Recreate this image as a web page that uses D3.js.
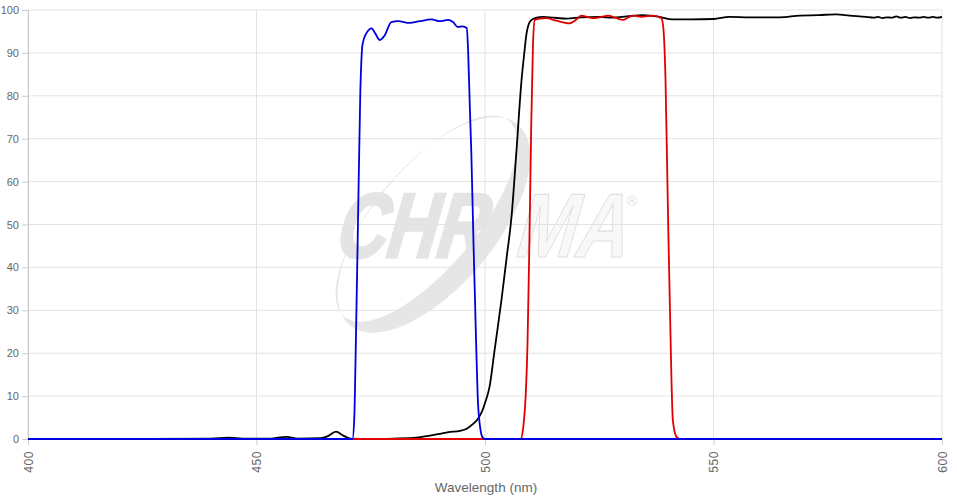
<!DOCTYPE html>
<html><head><meta charset="utf-8">
<script src="https://cdn.jsdelivr.net/npm/d3@7"></script>
<style>
body{margin:0;background:#fff}
text{font-family:"Liberation Sans",Arial,sans-serif}
</style>
</head><body>
<svg id="c" width="957" height="501"></svg>
<script>
const xTicks = [400, 450, 500, 550, 600];
const yTicks = [0, 10, 20, 30, 40, 50, 60, 70, 80, 90, 100];
const xTitle = "Wavelength (nm)";

const blueWl = [400,430,460,470,471.0,471.4,471.7,472.2,472.7,473.2,474.0,475.2,476.0,477.0,478.0,479.5,481.0,483.5,485.7,488.3,490.1,491.9,493.0,494.1,495.1,496.0,496.3,496.7,497.0,497.5,498.1,498.4,498.9,499.5,500,600];
const blueT  = [0,0,0,0,0,5,20,50,80,92,94.5,95.7,94.5,93.0,94.0,97.2,97.4,97.0,97.4,97.8,97.4,97.7,97.2,96.0,96.2,95.8,90.7,76.7,67,45,20.7,10,3,0.3,0,0];

const blackWl = [400,420,440,444,447,453,456.5,459,464,465.5,467.4,469,470.5,475,480,485,488,490.1,492,494.5,496,496.7,497.7,498.5,499.3,500,501,502.1,503.6,504.7,505.8,506.9,508,508.6,509.1,509.6,510.2,511.3,512.7,515,518,521,525,528,531,534.5,538.2,541,545,550,553.5,558,564.5,568.9,573,576.9,579.8,583.4,585,586,587,588,589,590,591,592,593,594,595,596,597,598,599,600];
const blackT  = [0,0,0.1,0.3,0.1,0.1,0.5,0.1,0.2,0.6,1.7,0.8,0.1,0,0.1,0.3,0.8,1.2,1.6,1.9,2.4,2.9,3.8,4.8,6.3,8.4,12.2,20.7,32.4,42,51.8,67.4,83.7,90,94.6,96.8,97.7,98.2,98.4,98.2,98.0,98.3,98.4,98.2,98.5,98.8,98.4,97.8,97.8,97.9,98.4,98.3,98.3,98.7,98.8,99.0,98.7,98.4,98.2,98.4,98.1,98.3,98.2,98.5,98.2,98.4,98.1,98.3,98.2,98.4,98.2,98.4,98.2,98.4];

const redWl = [400,507.8,508.4,508.9,509.3,509.7,510.1,510.5,510.9,512,513.4,515.6,518.5,520,521.1,522.3,523.6,525.5,526.9,528.5,530.2,531.4,532.4,534.2,536.8,538.6,539,539.5,540,540.8,541.1,541.9,542.6,600];
const redT  = [0,0,3,10,22,45,72,92,97.7,98.0,98.1,97.5,96.9,97.8,98.7,98.4,98.1,98.4,98.7,98.2,97.7,98.3,98.7,98.4,98.7,98.1,96.1,83.7,55,13.8,4.4,0.5,0,0];

const svg = d3.select("#c");
const x = d3.scaleLinear().domain([400, 600]).range([28, 942]);
const y = d3.scaleLinear().domain([0, 100]).range([439, 10]);

// watermark
const wm = svg.append("g").attr("class", "wm");
const cx = 434, cy = 225;
const eg = wm.append("g").attr("transform", `translate(${cx},${cy}) rotate(-50)`);
function ell(a, b, oy) {
  return `M${-a},${oy} A${a},${b} 0 1,0 ${a},${oy} A${a},${b} 0 1,0 ${-a},${oy} Z`;
}
eg.append("path").attr("d", ell(131, 61, 0) + ell(128, 50, -10))
  .attr("fill", "#e6e6e6").attr("fill-rule", "evenodd");
wm.append("g").attr("transform", "translate(332,257) skewX(-16)")
  .append("text").attr("x", 0).attr("y", 0)
  .attr("font-size", 91).attr("font-weight", "bold")
  .attr("textLength", 150).attr("lengthAdjust", "spacingAndGlyphs")
  .attr("fill", "#e4e4e4").attr("stroke", "#e4e4e4").attr("stroke-width", 3).text("CHR");
wm.append("g").attr("transform", "translate(512,257) skewX(-16)")
  .append("text").attr("x", 0).attr("y", 0)
  .attr("font-size", 91).attr("font-weight", "bold")
  .attr("textLength", 112).attr("lengthAdjust", "spacingAndGlyphs")
  .attr("fill", "#f8f8f8").attr("stroke", "#e0e0e0").attr("stroke-width", 1.2).text("MA");
wm.append("text").attr("x", 632).attr("y", 206).attr("font-size", 14)
  .attr("text-anchor", "middle").attr("fill", "#e2e2e2").text("®");

// grid
const grid = svg.append("g");
grid.selectAll("line.h").data(yTicks).join("line")
  .attr("x1", x(400)).attr("x2", x(600))
  .attr("y1", d => y(d)).attr("y2", d => y(d))
  .attr("stroke", "#e3e3e3").attr("stroke-width", 1);
grid.selectAll("line.v").data(xTicks).join("line")
  .attr("x1", d => x(d)).attr("x2", d => x(d))
  .attr("y1", y(100)).attr("y2", y(0))
  .attr("stroke", "#e3e3e3").attr("stroke-width", 1);

// y axis
const ya = svg.append("g").attr("transform", `translate(${x(400)},0)`)
  .call(d3.axisLeft(y).tickValues(yTicks).tickSize(6).tickPadding(3).tickFormat(d3.format("d")));
ya.select(".domain").attr("stroke", "#ccc");
ya.selectAll(".tick line").attr("stroke", "#ccc");
ya.selectAll(".tick text").attr("fill", "#666").attr("font-size", 11)
  .attr("font-family", "Liberation Sans, Arial, sans-serif");

// x axis
const xa = svg.append("g").attr("transform", `translate(0,${y(0)})`)
  .call(d3.axisBottom(x).tickValues(xTicks).tickSize(6).tickFormat(d3.format("d")));
xa.select(".domain").attr("stroke", "#ccc");
xa.selectAll(".tick line").attr("stroke", "#ccc");
xa.selectAll(".tick text").attr("fill", "#666").attr("font-size", 12)
  .attr("font-family", "Liberation Sans, Arial, sans-serif")
  .attr("transform", "rotate(-90)").attr("x", -12).attr("y", 0)
  .attr("dy", "0.35em").attr("text-anchor", "end").attr("letter-spacing", 0.6);

svg.append("text").attr("x", 486).attr("y", 492).attr("text-anchor", "middle")
  .attr("font-size", 13.5).attr("fill", "#666").text(xTitle);

// lines
const line = d3.line().x(d => x(d[0])).y(d => y(d[1])).curve(d3.curveMonotoneX);
const series = [
  {wl: blackWl, t: blackT, color: "#000000"},
  {wl: redWl, t: redT, color: "#e00000"},
  {wl: blueWl, t: blueT, color: "#0000dd"}
];
series.forEach(s => {
  svg.append("path").datum(s.wl.map((w, i) => [w, s.t[i]]))
    .attr("d", line).attr("fill", "none").attr("stroke", s.color)
    .attr("stroke-width", 1.8).attr("stroke-linejoin", "round");
});
</script>
</body></html>
